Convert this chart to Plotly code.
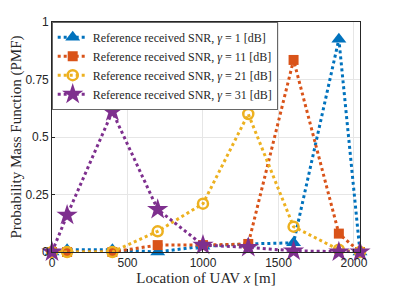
import plotly.graph_objects as go

x_loc = [0, 100, 400, 700, 1000, 1300, 1600, 1900, 2040]
pmf_g1 = [0.0, 0.01, 0.01, 0.0, 0.025, 0.035, 0.04, 0.925, 0.0]
pmf_g11 = [0.0, 0.0, 0.0, 0.03, 0.03, 0.035, 0.835, 0.08, 0.0]
pmf_g21 = [0.0, 0.0, 0.0, 0.09, 0.21, 0.60, 0.11, 0.01, 0.0]
pmf_g31 = [0.0, 0.16, 0.61, 0.185, 0.03, 0.02, 0.005, 0.0, 0.0]
gammas = [1, 11, 21, 31]

colors = ["#0072BD", "#D95319", "#EDB120", "#7E2F8E"]
symbols = ["triangle-up", "square", "circle-open", "star"]
sizes = [13, 10, 10, 16]
series = [pmf_g1, pmf_g11, pmf_g21, pmf_g31]

fig = go.Figure()
for g, ys, c, s, sz in zip(gammas, series, colors, symbols, sizes):
    fig.add_trace(go.Scatter(
        x=x_loc, y=ys, mode="lines+markers",
        name=f"Reference received SNR, <i>γ</i> = {g} [dB]",
        line=dict(color=c, width=3, dash="dot"),
        marker=dict(symbol=s, size=sz, color=c,
                    line=dict(color=c, width=2.5 if s == "circle-open" else 0)),
        cliponaxis=False,
    ))

serif = "Liberation Serif, Times New Roman, serif"
sans = "Liberation Sans, Arial, sans-serif"

# page body has an 8px margin, so the figure is sized to fit the 399x289 window
fig.update_layout(
    width=391, height=281,
    margin=dict(l=44, r=39, t=14, b=37),
    paper_bgcolor="white", plot_bgcolor="white",
    showlegend=True,
    legend=dict(x=0, y=1, xanchor="left", yanchor="top",
                bgcolor="white", bordercolor="#262626", borderwidth=0.7,
                font=dict(family=serif, size=12, color="#262626"),
                tracegroupgap=0, itemwidth=30,
                ),
    xaxis=dict(range=[0, 2040], tickvals=[0, 500, 1000, 1500, 2000],
               automargin=False,
               showgrid=True, gridcolor="#e6e6e6", gridwidth=0.7,
               zeroline=False, showline=True, linecolor="#262626", linewidth=0.7, mirror=True,
               ticks="inside", ticklen=3, tickcolor="#262626",
               tickfont=dict(family=sans, size=12, color="#262626"),
               title=dict(text="Location of UAV <i>x</i> [m]", standoff=2,
                          font=dict(family=serif, size=15, color="#262626"))),
    yaxis=dict(range=[0, 1], tickvals=[0, 0.25, 0.5, 0.75, 1],
               ticktext=["0", "0.25", "0.5", "0.75", "1"],
               automargin=False,
               showgrid=True, gridcolor="#e6e6e6", gridwidth=0.7,
               zeroline=False, showline=True, linecolor="#262626", linewidth=0.7, mirror=True,
               ticks="inside", ticklen=3, tickcolor="#262626",
               tickfont=dict(family=sans, size=12, color="#262626"),
               title=dict(text="Probability Mass Function (PMF)", standoff=2,
                          font=dict(family=serif, size=15, color="#262626"))),
)

fig.write_html("out.html")
